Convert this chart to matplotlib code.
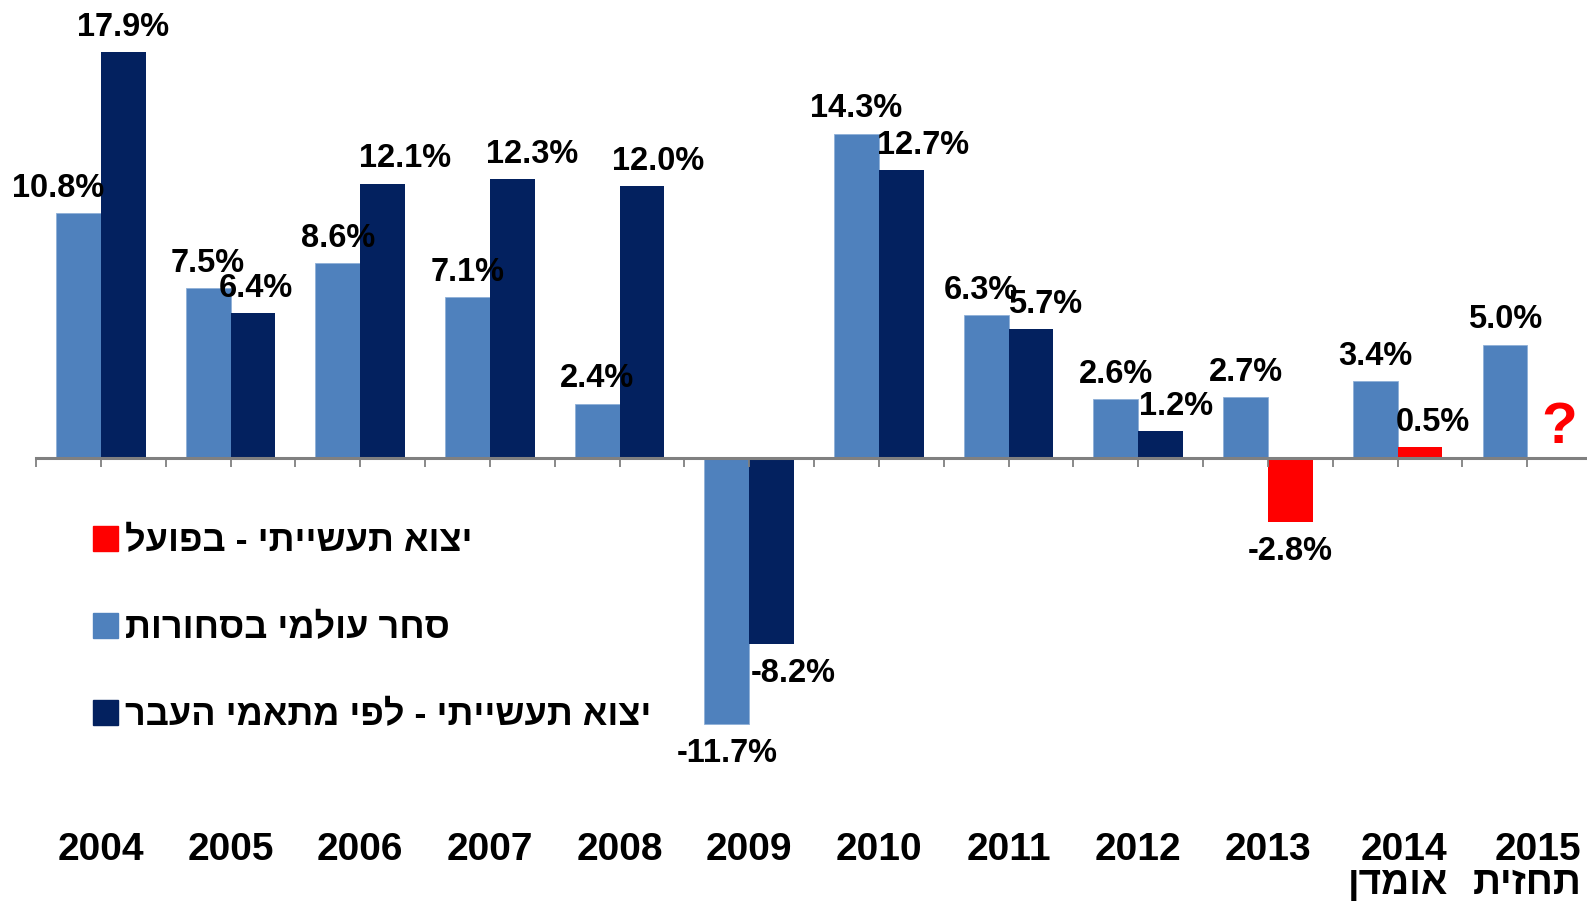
"""Bar chart: world trade vs. Israeli industrial exports, 2004-2015 (Hebrew labels)."""
import matplotlib
matplotlib.use("Agg")
import matplotlib.pyplot as plt
import numpy as np
from matplotlib.patches import Patch

plt.rcParams["font.family"] = ["Liberation Sans", "DejaVu Sans"]
plt.rcParams["font.weight"] = "bold"

# --- data -------------------------------------------------------------------
years = ["2004", "2005", "2006", "2007", "2008", "2009",
         "2010", "2011", "2012", "2013", "2014", "2015"]
year_notes = ["", "", "", "", "", "", "", "", "", "", "אומדן", "תחזית"]
world_trade = [10.8, 7.5, 8.6, 7.1, 2.4, -11.7, 14.3, 6.3, 2.6, 2.7, 3.4, 5.0]
exports_model = [17.9, 6.4, 12.1, 12.3, 12.0, -8.2, 12.7, 5.7, 1.2,
                 np.nan, np.nan, np.nan]
exports_actual = [np.nan] * 9 + [-2.8, 0.5, np.nan]

legend_labels = ["יצוא תעשייתי - בפועל",
                 "סחר עולמי בסחורות",
                 "יצוא תעשייתי - לפי מתאמי העבר"]

# horizontal nudges of the value labels (in category widths), like the original
shift_light = [-0.16, 0, 0, 0, 0, 0, 0, -0.04, 0, 0, 0, 0]
shift_dark = [0, 0.02, 0.17, 0.15, 0.125, 0.165, 0.17, 0.11, 0.12, 0, 0.10, 0]

LIGHT, DARK, RED, GRAY = "#4F81BD", "#03215F", "#FF0000", "#808080"


def rtl(s):
    """matplotlib has no bidi support: flip Hebrew to visual order."""
    return s[::-1]


def pct_label(ax, x, v, dx):
    off = 18 if v >= 0 else -21
    ax.annotate(f"{v:.1f}%", (x + dx, v), xytext=(0, off), textcoords="offset points",
                ha="center", va="center", fontsize=23.5, fontweight="bold")


fig = plt.figure(figsize=(15.87, 9.13), dpi=100)
ax = fig.add_axes([0.0227, 0.150, 0.9805, 0.850])

x = np.arange(len(years))
w = 0.345
ax.bar(x - w / 2, world_trade, w, color=LIGHT, edgecolor="#8fb0d8", linewidth=0.6)
ax.bar(x + w / 2, exports_model, w, color=DARK, edgecolor="none")
ax.bar(x + w / 2, exports_actual, w, color=RED, edgecolor="none")

for i in x:
    pct_label(ax, i - w / 2, world_trade[i], shift_light[i])
    for v in (exports_model[i], exports_actual[i]):
        if np.isfinite(v):
            pct_label(ax, i + w / 2, v, shift_dark[i])

# 2015: industrial exports still unknown
ax.text(x[-1] + w / 2 + 0.07, 1.35, "?", color=RED, fontsize=42, fontweight="bold",
        ha="center", va="center")

ax.set_xlim(-0.5, len(years) - 0.5)
ax.set_ylim(-14, 20.2)
for s in ("top", "right", "left"):
    ax.spines[s].set_visible(False)
ax.spines["bottom"].set_position(("data", 0))
ax.spines["bottom"].set_color(GRAY)
ax.spines["bottom"].set_linewidth(2.2)
ax.set_yticks([])
ax.set_xticks(np.arange(-0.5, len(years), 0.5))
ax.tick_params(axis="x", length=6.5, width=1.3, color=GRAY, labelbottom=False)

# year labels along the bottom of the plot area
for i, (yr, note) in enumerate(zip(years, year_notes)):
    lab = yr if not note else f"{yr}\n{rtl(note)}"
    ax.text(i, -0.072, lab, transform=ax.get_xaxis_transform(), ha="center", va="top",
            multialignment="right", fontsize=28, fontweight="bold", linespacing=0.92)

handles = [Patch(color=RED), Patch(color=LIGHT), Patch(color=DARK)]
ax.legend(handles, [rtl(t) for t in legend_labels], loc="upper left",
          bbox_to_anchor=(0.0274, 0.343), frameon=False, fontsize=26,
          handlelength=0.68, handleheight=0.68, handletextpad=0.2,
          labelspacing=1.44, borderaxespad=0)

fig.savefig("out.png", dpi=100)
